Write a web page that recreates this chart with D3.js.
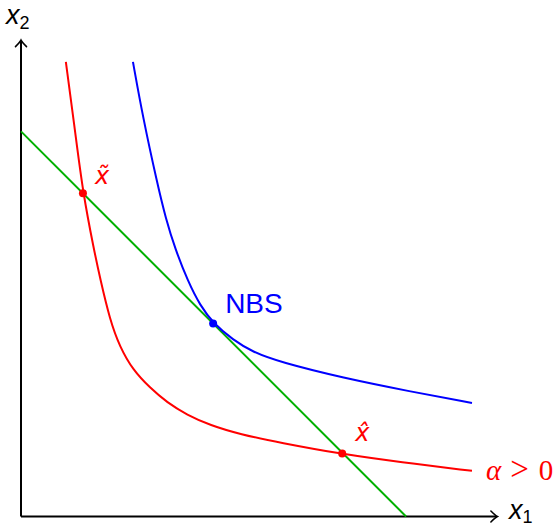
<!DOCTYPE html>
<html>
<head>
<meta charset="utf-8">
<script src="https://cdn.jsdelivr.net/npm/d3@7"></script>
<style>
  body { margin: 0; background: #fff; }
  svg { display: block; }
</style>
</head>
<body>
<svg id="chart" width="558" height="527"></svg>
<script>
// indifference curves (x1, x2)
const redCurve = [
  [1.13, 11.45], [1.36, 9.73], [1.56, 8.15], [1.84, 6.71], [1.99, 6.01],
  [2.24, 4.95], [2.49, 4.27], [2.82, 3.69], [3.25, 3.24], [3.68, 2.87],
  [4.18, 2.56], [4.76, 2.30], [5.52, 2.07], [6.52, 1.86], [8.09, 1.57],
  [9.55, 1.37], [11.36, 1.15]
];
const blueCurve = [
  [2.82, 11.45], [3.07, 10.06], [3.43, 8.40], [3.65, 7.49], [3.88, 6.75],
  [4.21, 5.91], [4.51, 5.32], [4.84, 4.87], [5.34, 4.45], [5.84, 4.14],
  [6.52, 3.89], [8.11, 3.49], [9.80, 3.15], [11.36, 2.86]
];
const budgetLine = [[0, 9.7], [9.7, 0]];
const points = [
  { name: "tilde", x: 1.56, y: 8.14, color: "#ff0000" },
  { name: "NBS", x: 4.84, y: 4.86, color: "#0000ff" },
  { name: "hat", x: 8.09, y: 1.59, color: "#ff0000" }
];
const axisMax = 12;

const svg = d3.select("#chart");

const x = d3.scaleLinear().domain([0, axisMax]).range([21, 497.4]);
const y = d3.scaleLinear().domain([0, axisMax]).range([516.5, 40.1]);

// basis spline evens out the small reading errors in the points
const curve = d3.line()
  .x(d => x(d[0]))
  .y(d => y(d[1]))
  .curve(d3.curveBasis);
const straight = d3.line()
  .x(d => x(d[0]))
  .y(d => y(d[1]));

// axes with tikz style arrow tips
const axes = svg.append("g")
  .attr("stroke", "#000")
  .attr("stroke-width", 2)
  .attr("fill", "none");

axes.append("line")
  .attr("x1", x(0)).attr("y1", y(0))
  .attr("x2", x(axisMax) - 1).attr("y2", y(0));
axes.append("line")
  .attr("x1", x(0)).attr("y1", y(0))
  .attr("x2", x(0)).attr("y2", y(axisMax) + 1);

const tipX = [x(axisMax), y(0)];
axes.append("path")
  .attr("stroke-width", 1.6)
  .attr("stroke-linecap", "round")
  .attr("d", `M${tipX[0] - 6.5},${tipX[1] - 5.5} Q${tipX[0] - 2},${tipX[1] - 1} ${tipX[0]},${tipX[1]}
              Q${tipX[0] - 2},${tipX[1] + 1} ${tipX[0] - 6.5},${tipX[1] + 5.5}`);
const tipY = [x(0), y(axisMax)];
axes.append("path")
  .attr("stroke-width", 1.6)
  .attr("stroke-linecap", "round")
  .attr("d", `M${tipY[0] - 5.5},${tipY[1] + 6.5} Q${tipY[0] - 1},${tipY[1] + 2} ${tipY[0]},${tipY[1]}
              Q${tipY[0] + 1},${tipY[1] + 2} ${tipY[0] + 5.5},${tipY[1] + 6.5}`);

// axis labels
const axisLabel = (lx, ly, sub, dy) => {
  const t = svg.append("text")
    .attr("x", lx).attr("y", ly)
    .attr("font-family", "Liberation Sans, Arial, sans-serif")
    .attr("font-size", 27)
    .attr("font-style", "italic")
    .attr("fill", "#000");
  t.append("tspan").text("x");
  t.append("tspan")
    .attr("font-size", 18).attr("font-style", "normal")
    .attr("dy", dy).text(sub);
};
axisLabel(6, 24, "2", 5);
axisLabel(509, 519, "1", 4);

// curves
svg.append("path")
  .datum(budgetLine)
  .attr("fill", "none")
  .attr("stroke", "#00b000")
  .attr("stroke-width", 2)
  .attr("d", straight);

svg.append("path")
  .datum(redCurve)
  .attr("fill", "none")
  .attr("stroke", "#ff0000")
  .attr("stroke-width", 2)
  .attr("d", curve);

svg.append("path")
  .datum(blueCurve)
  .attr("fill", "none")
  .attr("stroke", "#0000ff")
  .attr("stroke-width", 2)
  .attr("d", curve);

svg.append("g")
  .selectAll("circle")
  .data(points)
  .enter()
  .append("circle")
  .attr("cx", d => x(d.x))
  .attr("cy", d => y(d.y))
  .attr("r", 4)
  .attr("fill", d => d.color);

// point labels (x with combining accent)
const accentLabel = (px, py, accent, color) => {
  svg.append("text")
    .attr("x", px).attr("y", py)
    .attr("font-family", "DejaVu Sans, sans-serif")
    .attr("font-size", 24)
    .attr("font-style", "italic")
    .attr("fill", color)
    .text("x" + accent);
};
accentLabel(x(points[0].x) + 12, y(points[0].y) - 9, "\u0303", "#ff0000");
accentLabel(x(points[2].x) + 13, y(points[2].y) - 12, "\u0302", "#ff0000");

svg.append("text")
  .attr("x", x(points[1].x) + 12)
  .attr("y", y(points[1].y) - 11)
  .attr("font-family", "Liberation Sans, Arial, sans-serif")
  .attr("font-size", 28)
  .attr("fill", "#0000ff")
  .text("NBS");

// curve label
const alphaLabel = svg.append("text")
  .attr("x", x(redCurve[redCurve.length - 1][0]) + 14)
  .attr("y", y(redCurve[redCurve.length - 1][1]) + 9)
  .attr("font-family", "Liberation Serif, Times New Roman, serif")
  .attr("font-size", 29)
  .attr("fill", "#ff0000");
alphaLabel.append("tspan").attr("font-style", "italic").text("\u03B1");
alphaLabel.append("tspan").attr("dx", 9).attr("font-size", 33).text(">");
alphaLabel.append("tspan").attr("dx", 10).text("0");
</script>
</body>
</html>
